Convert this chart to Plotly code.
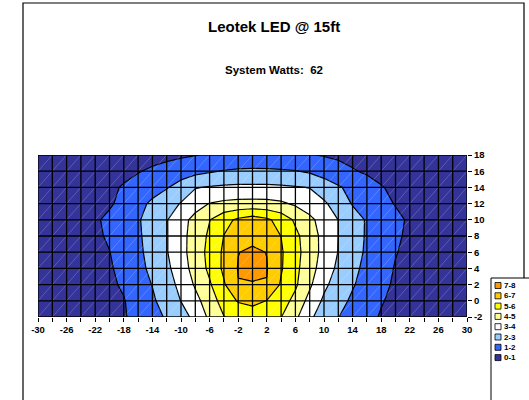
import plotly.graph_objects as go

# ---------------- data ----------------
x_vals = list(range(-30, 31, 2))
y_vals = list(range(-2, 19, 2))

row_m2 = [0.25, 0.3, 0.38, 0.48, 0.6, 0.75, 0.92, 1.29, 1.69, 2.10, 2.62, 3.25, 4.2, 4.97, 5.3, 5.5, 5.35, 5.03, 4.2, 3.17, 2.54, 2.02, 1.64, 1.27, 0.92, 0.75, 0.6, 0.48, 0.38, 0.3, 0.25]
row_0 = [0.26, 0.32, 0.4, 0.5, 0.63, 0.78, 0.95, 1.41, 1.86, 2.41, 3.02, 3.71, 4.5, 5.42, 6.08, 6.25, 5.98, 5.43, 4.72, 3.67, 2.84, 2.32, 1.84, 1.45, 1.06, 0.8, 0.64, 0.5, 0.4, 0.32, 0.26]
row_2 = [0.27, 0.34, 0.43, 0.54, 0.68, 0.85, 1.11, 1.57, 2.03, 2.6, 3.26, 4.12, 4.88, 5.89, 6.967, 6.8, 6.96, 5.89, 5.15, 4.16, 3.19, 2.59, 2.08, 1.64, 1.21, 0.88, 0.7, 0.55, 0.44, 0.35, 0.28]
row_4 = [0.29, 0.36, 0.45, 0.57, 0.72, 0.9, 1.27, 1.73, 2.22, 2.78, 3.55, 4.38, 5.21, 6.2, 7.05, 7.8, 7.05, 6.09, 5.25, 4.39, 3.54, 2.8, 2.23, 1.76, 1.35, 0.94, 0.75, 0.59, 0.46, 0.37, 0.3]
row_6 = [0.31, 0.39, 0.49, 0.62, 0.78, 0.98, 1.4, 1.81, 2.33, 2.94, 3.69, 4.46, 5.29, 6.17, 6.98, 7.15, 6.98, 6.11, 5.32, 4.5, 3.7, 2.97, 2.38, 1.86, 1.45, 1.04, 0.8, 0.63, 0.5, 0.4, 0.32]
row_8 = [0.33, 0.41, 0.52, 0.66, 0.85, 1.11, 1.49, 1.87, 2.37, 2.94, 3.69, 4.43, 5.17, 6.02, 6.38, 6.75, 6.38, 5.99, 5.23, 4.46, 3.71, 2.99, 2.43, 1.9, 1.51, 1.12, 0.86, 0.67, 0.53, 0.42, 0.33]
row_10 = [0.34, 0.43, 0.54, 0.68, 0.88, 1.2, 1.55, 1.91, 2.41, 2.95, 3.64, 4.32, 4.97, 5.68, 6.18, 6.5, 6.18, 5.62, 4.84, 4.22, 3.61, 2.99, 2.43, 1.91, 1.56, 1.21, 0.88, 0.68, 0.54, 0.43, 0.34]
row_12 = [0.29, 0.36, 0.45, 0.56, 0.7, 0.88, 1.27, 1.73, 2.17, 2.61, 3.05, 3.58, 4.03, 4.2, 4.28, 4.3, 4.28, 4.15, 3.86, 3.5, 3.14, 2.57, 1.93, 1.61, 1.28, 0.95, 0.74, 0.58, 0.46, 0.37, 0.3]
row_14 = [0.28, 0.35, 0.43, 0.54, 0.68, 0.85, 1.07, 1.36, 1.64, 1.93, 2.41, 2.95, 3.07, 3.15, 3.2, 3.2, 3.2, 3.15, 3.07, 2.97, 2.51, 2.1, 1.74, 1.4, 1.05, 0.83, 0.67, 0.53, 0.43, 0.35, 0.28]
row_16 = [0.26, 0.32, 0.39, 0.47, 0.57, 0.68, 0.8, 0.95, 1.14, 1.33, 1.52, 1.71, 1.9, 2.05, 2.12, 2.15, 2.13, 2.1, 2.04, 1.87, 1.6, 1.33, 1.07, 0.88, 0.75, 0.64, 0.54, 0.45, 0.37, 0.31, 0.26]
row_18 = [0.22, 0.26, 0.3, 0.35, 0.4, 0.46, 0.53, 0.6, 0.68, 0.77, 0.87, 0.97, 1.08, 1.18, 1.27, 1.3, 1.28, 1.22, 1.14, 1.05, 0.94, 0.84, 0.74, 0.65, 0.57, 0.5, 0.43, 0.37, 0.32, 0.27, 0.23]

z_rows = [row_m2, row_0, row_2, row_4, row_6, row_8, row_10, row_12, row_14, row_16, row_18]

band_labels = ["0-1", "1-2", "2-3", "3-4", "4-5", "5-6", "6-7", "7-8"]
band_colors = ["#333399", "#3366FF", "#99CCFF", "#FFFFFF", "#FFFF99", "#FFFF00", "#FFCC00", "#FF9900"]

x_tick_vals = list(range(-30, 31, 4))
x_tick_text = ["-30", "-26", "-22", "-18", "-14", "-10", "-6", "-2", "2", "6", "10", "14", "18", "22", "26", "30"]
y_tick_text = ["-2", "0", "2", "4", "6", "8", "10", "12", "14", "16", "18"]

title_text = "Leotek LED @ 15ft"
subtitle_text = "System Watts:  62"

# ---------------- layout constants ----------------
W, H = 529, 400
ML, MR, MT, MB = 38, 62, 155, 83
PW = W - ML - MR
PH = H - MT - MB
FONT = "Liberation Sans, Arial, sans-serif"


def xp(px):
    return (px - ML) / PW


def yp(py):
    return (H - MB - py) / PH


n = len(band_colors)
colorscale = []
for i, c in enumerate(band_colors):
    colorscale.append([i / n, c])
    colorscale.append([(i + 1) / n, c])

fig = go.Figure()

fig.add_trace(go.Contour(
    x=x_vals, y=y_vals, z=z_rows,
    zmin=0, zmax=n, zauto=False,
    colorscale=colorscale, showscale=False,
    contours=dict(start=1, end=n - 1, size=1, coloring="fill", showlines=True),
    line=dict(color="black", width=1.2, smoothing=0),
    hoverinfo="skip",
))

# faint diagonal wireframe inside each cell
dx, dy = [], []
for i in range(len(x_vals) - 1):
    for j in range(len(y_vals) - 1):
        dx += [x_vals[i], x_vals[i + 1], None]
        dy += [y_vals[j], y_vals[j + 1], None]
fig.add_trace(go.Scatter(x=dx, y=dy, mode="lines",
                         line=dict(color="rgba(255,255,255,0.25)", width=0.8),
                         hoverinfo="skip", showlegend=False))

# black cell grid on top
gx, gy = [], []
for xv in x_vals:
    gx += [xv, xv, None]
    gy += [y_vals[0], y_vals[-1], None]
for yv in y_vals:
    gx += [x_vals[0], x_vals[-1], None]
    gy += [yv, yv, None]
fig.add_trace(go.Scatter(x=gx, y=gy, mode="lines",
                         line=dict(color="black", width=1.3),
                         hoverinfo="skip", showlegend=False))

tickfont = dict(family=FONT, size=9.5, color="black", weight="bold")

fig.update_xaxes(
    range=[x_vals[0], x_vals[-1]], showgrid=False, zeroline=False, showline=False,
    tickmode="array", tickvals=x_tick_vals, ticktext=x_tick_text,
    ticks="outside", ticklen=4, tickwidth=1, tickcolor="black",
    minor=dict(tickmode="array", tickvals=x_vals, ticks="outside", ticklen=4,
               tickwidth=1, tickcolor="black", showgrid=False),
    tickfont=tickfont, fixedrange=True,
)
fig.update_yaxes(
    range=[y_vals[0], y_vals[-1]], side="right", showgrid=False, zeroline=False, showline=False,
    tickmode="array", tickvals=y_vals, ticktext=y_tick_text,
    ticks="outside", ticklen=4, tickwidth=1, tickcolor="black",
    tickfont=tickfont, fixedrange=True,
)

shapes = []
annotations = []

# outer chart frame
shapes.append(dict(type="rect", xref="paper", yref="paper",
                   x0=xp(23), x1=xp(524), y0=yp(420), y1=yp(3),
                   line=dict(color="black", width=1.2), fillcolor="rgba(0,0,0,0)", layer="below"))

# titles
annotations.append(dict(text=title_text, xref="paper", yref="paper", x=xp(274), y=yp(26),
                        xanchor="center", yanchor="middle", showarrow=False,
                        font=dict(family=FONT, size=15, color="black", weight="bold")))
annotations.append(dict(text=subtitle_text, xref="paper", yref="paper", x=xp(274), y=yp(70),
                        xanchor="center", yanchor="middle", showarrow=False,
                        font=dict(family=FONT, size=11.5, color="black", weight="bold")))

# legend box
shapes.append(dict(type="rect", xref="paper", yref="paper",
                   x0=xp(491), x1=xp(545), y0=yp(430), y1=yp(278),
                   line=dict(color="black", width=1), fillcolor="white", layer="above"))
leg_top = 285.5
leg_step = 10.3
for k in range(n):
    idx = n - 1 - k
    cy = leg_top + k * leg_step
    shapes.append(dict(type="rect", xref="paper", yref="paper",
                       x0=xp(495), x1=xp(501), y0=yp(cy + 3), y1=yp(cy - 3),
                       line=dict(color="black", width=0.8), fillcolor=band_colors[idx], layer="above"))
    annotations.append(dict(text=band_labels[idx], xref="paper", yref="paper",
                            x=xp(502), y=yp(cy), xanchor="left", yanchor="middle", showarrow=False,
                            font=dict(family=FONT, size=8, color="black", weight="bold")))

fig.update_layout(
    width=W, height=H, autosize=False,
    margin=dict(l=ML, r=MR, t=MT, b=MB, pad=0),
    paper_bgcolor="white", plot_bgcolor="white",
    showlegend=False, shapes=shapes, annotations=annotations,
)

fig.write_html("out.html", config={"displayModeBar": False},
               post_script="document.body.style.margin='0';document.body.style.overflow='hidden';")
